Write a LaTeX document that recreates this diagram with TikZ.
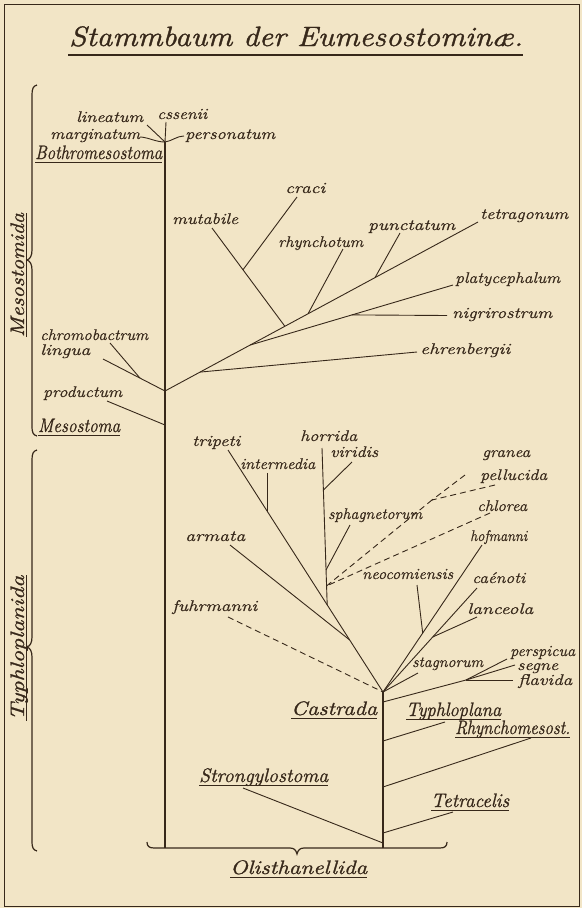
\documentclass[tikz,border=0pt]{standalone}
\usepackage{fontspec}
\usepackage{graphicx}
\setmainfont{Latin Modern Roman}
\newfontfamily\spfont{Latin Modern Roman}[FakeBold=0.6]
\newfontfamily\grfont{Latin Modern Roman}[FakeBold=1.2]
\usetikzlibrary{calc}
\definecolor{paper}{RGB}{242,229,198}
\definecolor{ink}{RGB}{55,40,26}
\newcommand\fw[2]{\resizebox{#1pt}{\height}{#2}}
\newcommand\ulab[1]{\draw[uline] ($(#1.base west)+(0,3)$) -- ($(#1.base east)+(0,3)$);}
\newcommand\vlab[1]{\draw[uline] ($(#1.base west)+(2.5,0)$) -- ($(#1.base east)+(2.5,0)$);}
\tikzset{
  branch/.style={draw=ink, line width=0.9pt},
  stem/.style={draw=ink, line width=1.2pt},
  dashbranch/.style={draw=ink, line width=0.9pt, dash pattern=on 6pt off 4pt},
  sp/.style={inner sep=0pt, anchor=base west, text=ink, font=\fontsize{15.5}{17}\spfont\itshape},
  grp/.style={inner sep=0pt, anchor=base west, text=ink, font=\fontsize{19.5}{21}\grfont\itshape},
  uline/.style={draw=ink, line width=0.9pt},
}
\begin{document}
\begin{tikzpicture}[x=1pt,y=-1pt]
\fill[paper] (0,0) rectangle (582,908);
\useasboundingbox (0,0) rectangle (582,908);
\draw[ink, line width=0.9pt] (4.5,4) rectangle (579,906.5);

% title
\node[grp, font=\fontsize{28}{30}\grfont\itshape] (title) at (69,46) {\fw{454}{Stammbaum der Eumesostominæ.}};
\draw[ink, line width=2.4pt] (68,54.7) -- (523,54.7);

% braces on the left
\draw[stem] (37,85) .. controls (33,86) and (32,89) .. (32,95) -- (32,250)
  .. controls (32,256) and (30,259) .. (27,260) .. controls (30,261) and (32,264) .. (32,270)
  -- (32,427) .. controls (32,432) and (33,435) .. (37,436);
\draw[stem] (37,450) .. controls (33,451) and (32,454) .. (32,460) -- (32,637)
  .. controls (32,643) and (30,646) .. (27,647) .. controls (30,648) and (32,651) .. (32,657)
  -- (32,842) .. controls (32,847) and (33,850) .. (37,851);
\node[grp, rotate=90, anchor=base] (mesostomida) at (24,275) {\fw{124}{Mesostomida}};
\node[grp, rotate=90, anchor=base] (typhloplanida) at (24,648) {\fw{145}{Typhloplanida}};
\vlab{mesostomida}
\vlab{typhloplanida}

% bottom brace
\draw[stem] (147,842) .. controls (147,846) and (149,848) .. (154,848) -- (290,848)
  .. controls (294,848) and (296,850) .. (297,854) .. controls (298,850) and (300,848) .. (304,848)
  -- (440,848) .. controls (445,848) and (447,846) .. (447,842);
\node[grp] (olisthanellida) at (230,874) {\fw{137}{Olisthanellida}};
\ulab{olisthanellida}

% ---------- Mesostoma tree ----------
\coordinate (jB) at (165,142);
\coordinate (mBot) at (165,848);
\coordinate (eLin) at (147,125);
\coordinate (eEss) at (166,122);
\coordinate (eMar) at (141,137);
\coordinate (ePers) at (184,136);
\coordinate (jM) at (165,391);
\coordinate (jP) at (165,425);
\coordinate (eProd) at (107,401);
\coordinate (eLing) at (103,359);
\coordinate (eChr) at (110,343);
\coordinate (eTet) at (478,222);
\coordinate (ePla) at (453,285);
\coordinate (eEhr) at (417,352);
\coordinate (eNig) at (447,315.5);
\coordinate (eMut) at (212,228);
\coordinate (eCra) at (297,197);
\coordinate (eRhy) at (343,249);
\coordinate (ePun) at (400,233);
\coordinate (jEhr) at ($(jM)!0.112!(eTet)$);
\coordinate (jPla) at ($(jM)!0.272!(eTet)$);
\coordinate (jMut) at ($(jM)!0.383!(eTet)$);
\coordinate (jRhy) at ($(jM)!0.457!(eTet)$);
\coordinate (jPun) at ($(jM)!0.671!(eTet)$);
\coordinate (jNig) at ($(jPla)!0.502!(ePla)$);
\coordinate (jCra) at ($(eMut)!0.425!(jMut)$);
\coordinate (jCh) at ($(eLing)!0.597!(jM)$);

\draw[stem] (jB) -- (mBot);
\draw[branch] (eLin) -- (jB);
\draw[branch] (eEss) -- (jB);
\draw[branch] (eMar) .. controls (150,138) and (156,142) .. (jB);
\draw[branch] (jB) .. controls (172,141) and (177,136) .. (ePers);
\draw[branch] (jM) -- (eTet);
\draw[branch] (jPla) -- (ePla);
\draw[branch] (jEhr) -- (eEhr);
\draw[branch] (jNig) -- (eNig);
\draw[branch] (eMut) -- (jMut);
\draw[branch] (eCra) -- (jCra);
\draw[branch] (eRhy) -- (jRhy);
\draw[branch] (ePun) -- (jPun);
\draw[branch] (eLing) -- (jM);
\draw[branch] (eChr) -- (jCh);
\draw[branch] (eProd) -- (jP);

\node[sp] (lineatum) at (76,122) {\fw{67}{lineatum}};
\node[sp] (essenii) at (157,119) {\fw{50}{cssenii}};
\node[sp] (marginatum) at (50,139) {\fw{90}{marginatum}};
\node[sp] (personatum) at (185,139) {\fw{90}{personatum}};
\node[grp] (bothromesostoma) at (35,159) {\fw{127}{Bothromesostoma}};
\ulab{bothromesostoma}
\node[sp] (mutabile) at (172,224) {\fw{66}{mutabile}};
\node[sp] (craci) at (285,193) {\fw{40}{craci}};
\node[sp] (rhynchotum) at (278,247) {\fw{85}{rhynchotum}};
\node[sp] (punctatum) at (368,230) {\fw{87}{punctatum}};
\node[sp] (tetragonum) at (480,219) {\fw{88}{tetragonum}};
\node[sp] (platycephalum) at (455,283) {\fw{105}{platycephalum}};
\node[sp] (nigrirostrum) at (452,318) {\fw{100}{nigrirostrum}};
\node[sp] (ehrenbergii) at (420,354) {\fw{90}{ehrenbergii}};
\node[sp] (chromobactrum) at (40,340) {\fw{108}{chromobactrum}};
\node[sp] (lingua) at (40,355) {\fw{50}{lingua}};
\node[sp] (productum) at (43,397) {\fw{79}{productum}};
\node[grp] (mesostoma) at (38,432) {\fw{82}{Mesostoma}};
\ulab{mesostoma}

% ---------- Typhloplanida tree ----------
\coordinate (jC) at (383,692);
\coordinate (jBot) at (383,848);
\coordinate (eTri) at (228,450);
\coordinate (eArm) at (230,545);
\coordinate (jArm) at ($(eTri)!0.785!(jC)$);
\coordinate (jInt) at ($(eTri)!0.252!(jC)$);
\coordinate (eInt) at ($(jInt)+(0,-38)$);
\coordinate (jHor) at ($(eTri)!0.640!(jC)$);
\coordinate (eHor) at (322,448);
\coordinate (jVir) at ($(eHor)!0.268!(jHor)$);
\coordinate (jSph) at ($(eHor)!0.777!(jHor)$);
\coordinate (jDash) at ($(eHor)!0.879!(jHor)$);
\coordinate (eVir) at (352,462);
\coordinate (eSph) at (350,525);
\coordinate (jGra) at (432,500);
\coordinate (eGra) at (465,475);
\coordinate (ePel) at (495,485);
\coordinate (eChl) at (490,513);
\coordinate (eFuh) at (228,617);
\coordinate (eHof) at (482,545);
\coordinate (jNeo) at ($(eHof)!0.599!(jC)$);
\coordinate (eNeo) at (417,585);
\coordinate (eCae) at (477,588);
\coordinate (jLan) at ($(eCae)!0.471!(jC)$);
\coordinate (eLan) at (477,617);
\coordinate (eSta) at (418,673);
\coordinate (jPs) at (383,702);
\coordinate (jPs2) at (466,680);
\coordinate (ePsp) at (507,659);
\coordinate (eSeg) at (515,665);
\coordinate (eFla) at (513,680);
\coordinate (jTyp) at (383,741);
\coordinate (eTyp) at (445,722);
\coordinate (jRhm) at (383,787);
\coordinate (eRhm) at (531,738);
\coordinate (jTc) at (383,833);
\coordinate (eTc) at (453,812);
\coordinate (jStr) at (383,843);
\coordinate (eStr) at (243,788);

\draw[stem] (jC) -- (jBot);
\draw[branch] (eTri) -- (jC);
\draw[branch] (eArm) -- (jArm);
\draw[branch] (eInt) -- (jInt);
\draw[branch] (eHor) -- (jHor);
\draw[branch] (eVir) -- (jVir);
\draw[branch] (eSph) -- (jSph);
\draw[dashbranch] (eGra) -- (jGra);
\draw[dashbranch] (ePel) -- (jGra);
\draw[dashbranch] (jGra) -- (jDash);
\draw[dashbranch] (eChl) -- (jDash);
\draw[dashbranch] (eFuh) -- (jC);
\draw[branch] (eHof) -- (jC);
\draw[branch] (eNeo) -- (jNeo);
\draw[branch] (eCae) -- (jC);
\draw[branch] (eLan) -- (jLan);
\draw[branch] (eSta) -- (jC);
\draw[branch] (jPs) -- (jPs2);
\draw[branch] (jPs2) -- (ePsp);
\draw[branch] (jPs2) -- (eSeg);
\draw[branch] (jPs2) -- (eFla);
\draw[branch] (jTyp) -- (eTyp);
\draw[branch] (jRhm) -- (eRhm);
\draw[branch] (jTc) -- (eTc);
\draw[branch] (eStr) -- (jStr);

\node[sp] (tripeti) at (192,446) {\fw{48}{tripeti}};
\node[sp] (intermedia) at (240,469) {\fw{75}{intermedia}};
\node[sp] (horrida) at (300,441) {\fw{57}{horrida}};
\node[sp] (viridis) at (330,457) {\fw{48}{viridis}};
\node[sp] (granea) at (482,457) {\fw{48}{granea}};
\node[sp] (pellucida) at (480,480) {\fw{67}{pellucida}};
\node[sp] (sphagnetorum) at (328,519) {\fw{94}{sphagnetorum}};
\node[sp] (chlorea) at (477,511) {\fw{50}{chlorea}};
\node[sp] (armata) at (185,541) {\fw{60}{armata}};
\node[sp] (hofmanni) at (470,541) {\fw{57}{hofmanni}};
\node[sp] (neocomiensis) at (362,579) {\fw{91}{neocomiensis}};
\node[sp] (caenoti) at (472,583) {\fw{53}{caénoti}};
\node[sp] (lanceola) at (467,614) {\fw{66}{lanceola}};
\node[sp] (fuhrmanni) at (172,611) {\fw{85}{fuhrmanni}};
\node[sp] (stagnorum) at (412,667) {\fw{71}{stagnorum}};
\node[sp] (perspicua) at (510,656) {\fw{65}{perspicua}};
\node[sp] (segne) at (517,670) {\fw{41}{segne}};
\node[sp] (flavida) at (518,685) {\fw{54}{flavida}};
\node[grp] (castrada) at (291,715) {\fw{86}{Castrada}};
\ulab{castrada}
\node[grp] (typhloplana) at (406,716) {\fw{95}{Typhloplana}};
\ulab{typhloplana}
\node[grp] (rhynchomesost) at (455,734) {\fw{115}{Rhynchomesost.}};
\ulab{rhynchomesost}
\node[grp] (strongylostoma) at (199,782) {\fw{129}{Strongylostoma}};
\ulab{strongylostoma}
\node[grp] (tetracelis) at (431,807) {\fw{78}{Tetracelis}};
\ulab{tetracelis}
\end{tikzpicture}
\end{document}
